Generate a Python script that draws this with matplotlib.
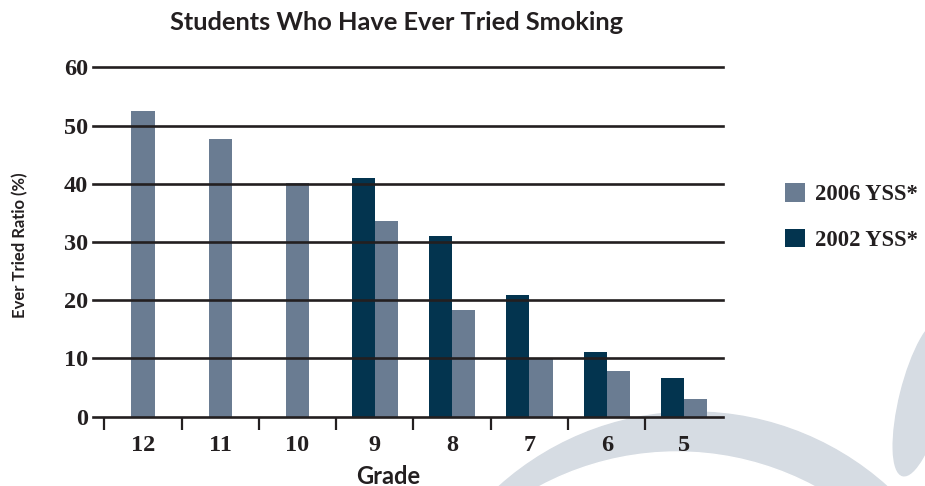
import matplotlib
matplotlib.use("Agg")
import matplotlib.pyplot as plt
from matplotlib.patches import Circle, Ellipse
from matplotlib.transforms import Affine2D
import numpy as np

# Data
grades = ["12", "11", "10", "9", "8", "7", "6", "5"]
yss_2006 = [52.5, 47.7, 40.1, 33.6, 18.3, 9.9, 7.8, 3.0]
yss_2002 = [None, None, None, 41.0, 31.0, 20.9, 11.1, 6.6]
y_ticks = [0, 10, 20, 30, 40, 50, 60]

c2006 = "#6a7c92"
c2002 = "#03344f"
ink = "#231f20"
arc_grey = "#d6dce3"

serif = ["Liberation Serif", "DejaVu Serif"]
sans = ["Lato", "DejaVu Sans"]

W, H = 925, 486
fig = plt.figure(figsize=(W / 100, H / 100), dpi=100)
fig.patch.set_facecolor("white")

# pixel coordinates measured from the top-left corner
px = Affine2D().scale(1, -1).translate(0, H).scale(1 / W, 1 / H) + fig.transFigure

# decorative swoosh in the lower right
fig.patches.append(Circle((693, 702), 290, transform=px, color=arc_grey, zorder=0))
fig.patches.append(Circle((677, 743), 291, transform=px, color="white", zorder=0.1))
fig.patches.append(Ellipse((922, 398), 44, 160, angle=14, transform=px,
                           color=arc_grey, zorder=0.2))

ax = fig.add_axes([93 / W, 1 - 416.7 / H, 629.7 / W, 349.4 / H])
ax.set_facecolor("none")
ax.set_zorder(1)

x = np.arange(len(grades))
w = 0.30
pos06, val06, pos02, val02 = [], [], [], []
for i, (a, b) in enumerate(zip(yss_2006, yss_2002)):
    if b is None:
        pos06.append(i)
        val06.append(a)
    else:
        pos02.append(i - w / 2)
        val02.append(b)
        pos06.append(i + w / 2)
        val06.append(a)

b06 = ax.bar(pos06, val06, width=w, color=c2006, zorder=1, label="2006 YSS*")
b02 = ax.bar(pos02, val02, width=w, color=c2002, zorder=1, label="2002 YSS*")

ax.set_xlim(-0.646, 7.5)
ax.set_ylim(0, 60)

# horizontal rules over the bars
for t in y_ticks[1:]:
    ax.axhline(t, color=ink, lw=1.9, zorder=3, clip_on=False)

for s in ["top", "right", "left"]:
    ax.spines[s].set_visible(False)
ax.spines["bottom"].set_color(ink)
ax.spines["bottom"].set_linewidth(1.9)
ax.spines["bottom"].set_zorder(3)

ax.set_yticks(y_ticks)
ax.set_yticklabels([str(t) for t in y_ticks], fontfamily=serif, fontweight="bold",
                   fontsize=17.5, color=ink)
ax.tick_params(axis="y", length=0, pad=3.5)

ax.set_xticks(x)
ax.set_xticklabels(grades, fontfamily=serif, fontweight="bold", fontsize=17.5, color=ink)
ax.tick_params(axis="x", which="major", length=0, pad=13)
ax.set_xticks(np.arange(-0.5, 7.0, 1.0), minor=True)
ax.tick_params(axis="x", which="minor", length=9, width=1.6, color=ink, direction="out")

fig.text(396 / W, 1 - 22 / H, "Students Who Have Ever Tried Smoking", ha="center",
         va="center", fontfamily=sans, fontweight="bold", fontsize=18.3, color=ink)
fig.text(388 / W, 1 - 476 / H, "Grade", ha="center", va="center", fontfamily=sans,
         fontweight="bold", fontsize=17, color=ink)
fig.text(20 / W, 1 - 245 / H, "Ever Tried Ratio (%)", ha="center", va="center",
         rotation=90, fontfamily=sans, fontweight="bold", fontsize=12, color=ink)

leg = fig.legend(handles=[b06, b02], loc="center left",
                 bbox_to_anchor=(785 / W, 1 - 217 / H), frameon=False,
                 prop={"family": serif, "weight": "bold", "size": 16.3},
                 handlelength=0.88, handleheight=0.88, handletextpad=0.45,
                 labelspacing=1.05, borderaxespad=0, borderpad=0)
for t in leg.get_texts():
    t.set_color(ink)

fig.savefig("out.png", dpi=100)
